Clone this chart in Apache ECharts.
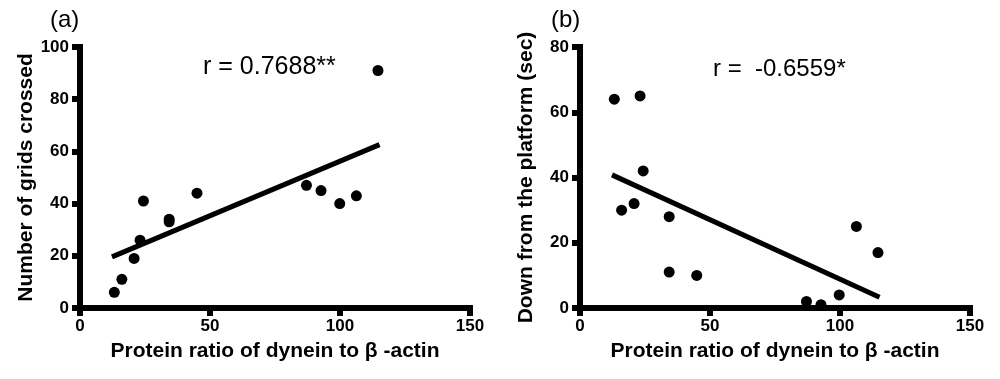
<!DOCTYPE html>
<html><head><meta charset="utf-8">
<script src="https://cdn.jsdelivr.net/npm/echarts@6/dist/echarts.min.js"></script>
<style>html,body{margin:0;padding:0;background:#fff}#c{width:1000px;height:379px}</style>
</head><body><div id="c"></div>
<script>
// Data
var dyneinRatio = [13.2, 16.1, 20.8, 23.1, 24.4, 34.3, 34.3, 45.0, 87.1, 92.7, 99.9, 106.3, 114.6];
var gridsCrossed = [6, 11, 19, 26, 41, 34, 33, 44, 47, 45, 40, 43, 91];
var dyneinRatioB = [13.2, 16.0, 20.8, 23.1, 24.3, 34.3, 34.3, 44.9, 87.1, 92.7, 99.7, 106.3, 114.6];
var downPlatform = [64, 30, 32, 65, 42, 28, 11, 10, 2, 1, 4, 25, 17];
var fitX = [12.3, 115.2];
var fitA = [19.6, 62.6];
var fitB = [40.8, 3.3];
var xTicks = [0, 50, 100, 150];
var yTicksA = [0, 20, 40, 60, 80, 100];
var yTicksB = [0, 20, 40, 60, 80];
var labelA = 'r = 0.7688**';
var labelB = 'r =  -0.6559*';
var panelA = '(a)';
var panelB = '(b)';
var xName = 'Protein ratio of dynein to \u03b2 -actin';
var yNameA = 'Number of grids crossed';
var yNameB = 'Down from the platform (sec)';

function pairs(xs, ys){ return xs.map(function(x,i){ return [x, ys[i]]; }); }

var chart = echarts.init(document.getElementById('c'), null, {renderer:'canvas'});
var FONT = 'Liberation Sans, Arial, sans-serif';
function xAxis(gi){
  return {gridIndex: gi, type:'value', min: xTicks[0], max: xTicks[xTicks.length-1], interval: xTicks[1]-xTicks[0],
    name: xName, nameLocation:'middle', nameGap: 33,
    nameTextStyle:{fontFamily:FONT, fontWeight:'bold', fontSize:21, color:'#000'},
    axisLine:{show:true, onZero:false, lineStyle:{color:'#000', width:6, cap:'square'}},
    axisTick:{show:true, length:8, lineStyle:{color:'#000', width:6}},
    axisLabel:{fontFamily:FONT, fontWeight:'bold', fontSize:17, color:'#000', margin:10},
    splitLine:{show:false}};
}
function yAxis(gi, ticks, name){
  return {gridIndex: gi, type:'value', min: ticks[0], max: ticks[ticks.length-1], interval: ticks[1]-ticks[0],
    name: name, nameLocation:'middle', nameGap: 43,
    nameTextStyle:{fontFamily:FONT, fontWeight:'bold', fontSize:21, color:'#000'},
    axisLine:{show:true, onZero:false, lineStyle:{color:'#000', width:6, cap:'square'}},
    axisTick:{show:true, length:8, lineStyle:{color:'#000', width:6}},
    axisLabel:{fontFamily:FONT, fontWeight:'bold', fontSize:17, color:'#000', margin:11},
    splitLine:{show:false}};
}
var option = {
  backgroundColor:'#fff',
  animation:false,
  grid:[
    {left:80, top:47, width:390, height:261},
    {left:580, top:47, width:390, height:261}
  ],
  xAxis:[xAxis(0), xAxis(1)],
  yAxis:[yAxis(0, yTicksA, yNameA), yAxis(1, yTicksB, yNameB)],
  series:[
    {type:'line', xAxisIndex:0, yAxisIndex:0, data: pairs(fitX, fitA), symbol:'none', lineStyle:{color:'#000', width:5}, z:2},
    {type:'scatter', xAxisIndex:0, yAxisIndex:0, data: pairs(dyneinRatio, gridsCrossed), symbolSize:11, itemStyle:{color:'#000', opacity:1}, z:3},
    {type:'line', xAxisIndex:1, yAxisIndex:1, data: pairs(fitX, fitB), symbol:'none', lineStyle:{color:'#000', width:5}, z:2},
    {type:'scatter', xAxisIndex:1, yAxisIndex:1, data: pairs(dyneinRatioB, downPlatform), symbolSize:11, itemStyle:{color:'#000', opacity:1}, z:3}
  ],
  graphic:[
    {type:'text', left:50, top:8, style:{text:panelA, font:'24px "Liberation Sans", Arial, sans-serif', fill:'#000'}},
    {type:'text', left:551, top:8, style:{text:panelB, font:'24px "Liberation Sans", Arial, sans-serif', fill:'#000'}},
    {type:'text', left:203, top:55, style:{text:labelA, font:'25px "Liberation Sans", Arial, sans-serif', fill:'#000'}},
    {type:'text', left:713, top:57, style:{text:labelB, font:'24px "Liberation Sans", Arial, sans-serif', fill:'#000'}}
  ]
};
chart.setOption(option);
</script></body></html>
